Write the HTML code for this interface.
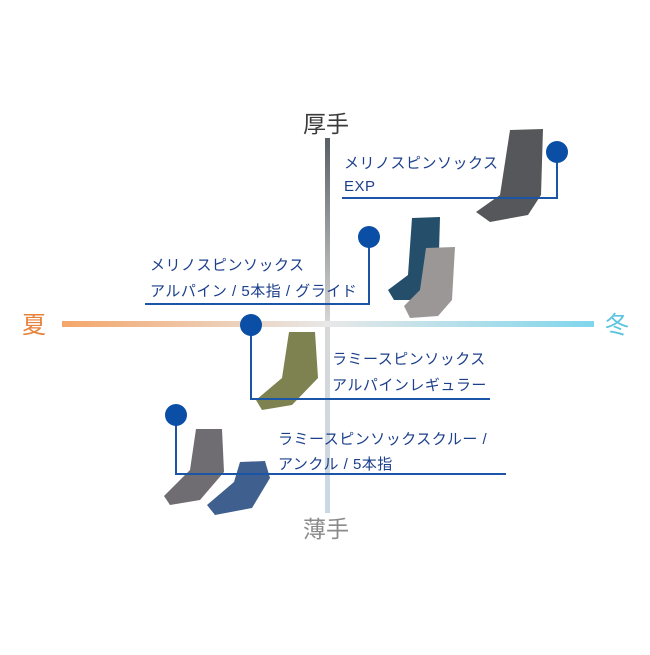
<!DOCTYPE html>
<html><head><meta charset="utf-8"><style>
html,body{margin:0;padding:0;background:#fff;}
svg text{font-family:"Liberation Sans","Noto Sans CJK JP",sans-serif;}
</style></head><body>
<svg width="650" height="650" viewBox="0 0 650 650" xmlns="http://www.w3.org/2000/svg">
<defs>
<linearGradient id="vg" x1="0" y1="0" x2="0" y2="1">
<stop offset="0" stop-color="#5a5f63"/><stop offset="0.5" stop-color="#d8d8d8"/><stop offset="1" stop-color="#c9d8e4"/>
</linearGradient>
<linearGradient id="hg" x1="0" y1="0" x2="1" y2="0">
<stop offset="0" stop-color="#f5a66a"/><stop offset="0.5" stop-color="#e8e8e8"/><stop offset="1" stop-color="#7fd6ec"/>
</linearGradient>
</defs>
<rect x="325" y="138" width="5" height="375" fill="url(#vg)"/>
<rect x="62" y="321" width="532" height="6" fill="url(#hg)"/>
<text x="303" y="132" font-size="23" fill="#3a3a3a">厚手</text>
<text x="303" y="537" font-size="23" fill="#8a8a8a">薄手</text>
<text x="22" y="333" font-size="24" fill="#e6823a">夏</text>
<text x="605" y="333" font-size="24" fill="#5cc4e0">冬</text>

<g>
<path d="M510 130 L543 129 L541 195 L528 215 L490 222 L476 212 L500 195 Z" fill="#55575a"/>
<path d="M412 218 L440 217 L438 288 L420 300 L394 300 L388 290 L408 275 Z" fill="#244e6a"/>
<path d="M426 248 L455 247 L452 300 L438 316 L410 318 L404 306 L420 290 Z" fill="#9b9797"/>
<path d="M289 332 L315 332 L318 378 L292 405 L262 410 L256 400 L282 378 Z" fill="#7e8150"/>
<path d="M196 429 L222 429 L224 472 L200 500 L170 505 L164 496 L190 470 Z" fill="#6f6c72"/>
<path d="M240 462 L265 461 L270 478 L252 508 L215 515 L207 505 L234 482 Z" fill="#3f5f8e"/>
</g>

<g stroke="#1b55a8" stroke-width="2" fill="none">
<polyline points="557,152 557,198 342,198"/>
<polyline points="369,237 369,304 145,304"/>
<polyline points="251,325 251,399 490,399"/>
<polyline points="176,415 176,474 506,474"/>
</g>
<g fill="#0a4ea6">
<circle cx="557" cy="152" r="11"/>
<circle cx="369" cy="237" r="11"/>
<circle cx="251" cy="325" r="11"/>
<circle cx="176" cy="415" r="11"/>
</g>
<g font-size="15" fill="#1c3f8c" letter-spacing="0.5">
<text x="344" y="168">メリノスピンソックス</text>
<text x="344" y="191">EXP</text>
<text x="150" y="270">メリノスピンソックス</text>
<text x="150" y="296">アルパイン / 5本指 / グライド</text>
<text x="332" y="364">ラミースピンソックス</text>
<text x="332" y="390">アルパインレギュラー</text>
<text x="278" y="444">ラミースピンソックスクルー /</text>
<text x="278" y="469">アンクル / 5本指</text>
</g>
</svg>
</body></html>
